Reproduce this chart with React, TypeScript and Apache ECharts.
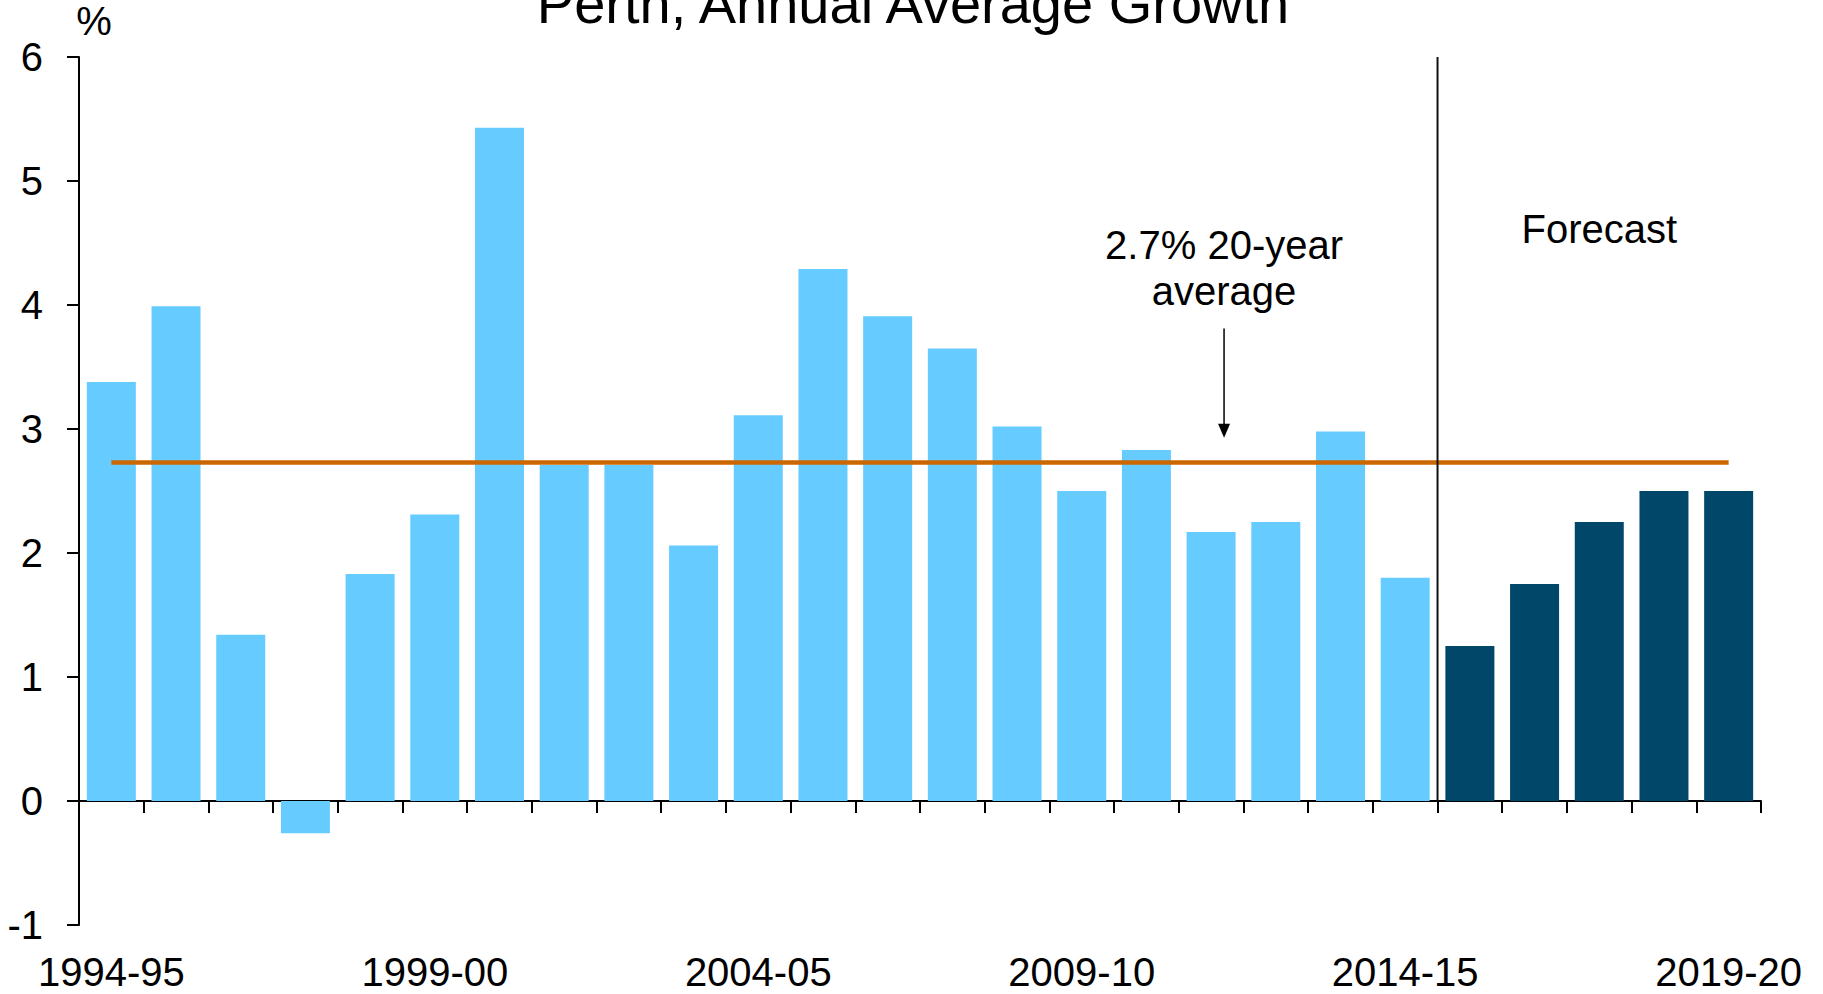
import React, { useEffect, useRef } from "react";
import * as echarts from "echarts";

const categories = [
  "1994-95", "1995-96", "1996-97", "1997-98", "1998-99", "1999-00", "2000-01",
  "2001-02", "2002-03", "2003-04", "2004-05", "2005-06", "2006-07", "2007-08",
  "2008-09", "2009-10", "2010-11", "2011-12", "2012-13", "2013-14", "2014-15",
  "2015-16", "2016-17", "2017-18", "2018-19", "2019-20",
];
const historical = [
  3.38, 3.99, 1.34, -0.26, 1.83, 2.31, 5.43, 2.71, 2.71, 2.06, 3.11, 4.29, 3.91,
  3.65, 3.02, 2.5, 2.83, 2.17, 2.25, 2.98, 1.8,
];
const forecast = [1.25, 1.75, 2.25, 2.5, 2.5];
const averageValue = 2.73;
const yMin = -1;
const yMax = 6;
const yInterval = 1;

const titleText = "Perth, Annual Average Growth";
const unitText = "%";
const averageLabel = "2.7% 20-year\naverage";
const forecastLabel = "Forecast";

const LIGHT = "#66CCFF";
const DARK = "#004769";
const ORANGE = "#CC6600";
const FONT = '"Liberation Sans", Arial, Helvetica, sans-serif';

export default function App() {
  const ref = useRef<HTMLDivElement>(null);

  useEffect(() => {
    if (!ref.current) return;
    const chart = echarts.init(ref.current, null, { renderer: "svg" });
    const values = [...historical, ...forecast];
    const axisLineStyle = { color: "#000", width: 2 };

    chart.setOption({
      animation: false,
      grid: {
        left: 79,
        right: 62,
        top: 57,
        bottom: 69,
        containLabel: false,
        outerBoundsMode: "none",
      },
      xAxis: {
        type: "category",
        data: categories,
        boundaryGap: true,
        axisLine: { show: true, onZero: true, lineStyle: axisLineStyle },
        axisTick: { show: true, interval: 0, length: 12, lineStyle: axisLineStyle },
        axisLabel: {
          interval: 4,
          margin: 27,
          fontSize: 40,
          color: "#000",
          fontFamily: FONT,
        },
        splitLine: { show: false },
      },
      yAxis: {
        type: "value",
        min: yMin,
        max: yMax,
        interval: yInterval,
        axisLine: { show: true, lineStyle: axisLineStyle },
        axisTick: { show: true, length: 12, lineStyle: axisLineStyle },
        axisLabel: { margin: 36, fontSize: 40, color: "#000", fontFamily: FONT },
        splitLine: { show: false },
      },
      series: [
        {
          type: "bar",
          barWidth: 49,
          data: values.map((v, i) => ({
            value: v,
            itemStyle: { color: i < historical.length ? LIGHT : DARK },
          })),
          markLine: {
            silent: true,
            symbol: "none",
            label: { show: false },
            lineStyle: { color: ORANGE, width: 4.5, type: "solid" },
            data: [
              [
                { coord: [categories[0], averageValue] },
                { coord: [categories[categories.length - 1], averageValue] },
              ],
            ],
          },
        },
      ],
    });

    const px = (idx: number, val: number) =>
      chart.convertToPixel({ xAxisIndex: 0, yAxisIndex: 0 }, [idx, val]) as number[];

    const nHist = historical.length;
    const divX = (px(nHist - 1, 0)[0] + px(nHist, 0)[0]) / 2;
    const divTop = px(0, yMax)[1];
    const divBottom = px(0, 0)[1];

    // annotation anchor: between 2011-12 and 2012-13
    const aIdx = 17;
    const aFrac = 0.2;
    const aX = px(aIdx, 0)[0] + aFrac * (px(aIdx + 1, 0)[0] - px(aIdx, 0)[0]);
    const arrowTop = px(0, 3.81)[1];
    const arrowTip = px(0, 2.93)[1];
    const labelY = px(0, 4.3)[1];
    const fcX = px(nHist + 2, 0)[0];
    const fcY = px(0, 4.61)[1];
    const axisX = px(0, 0)[0] - (px(1, 0)[0] - px(0, 0)[0]) / 2;
    const topY = px(0, yMax)[1];

    chart.setOption({
      graphic: [
        {
          type: "text",
          x: 913,
          y: 3,
          style: {
            text: titleText,
            fill: "#000",
            font: `56px ${FONT}`,
            align: "center",
            verticalAlign: "middle",
          },
        },
        {
          type: "text",
          x: axisX + 15,
          y: topY - 36,
          style: {
            text: unitText,
            fill: "#000",
            font: `40px ${FONT}`,
            align: "center",
            verticalAlign: "middle",
          },
        },
        {
          type: "line",
          shape: { x1: divX, y1: divTop, x2: divX, y2: divBottom },
          style: { stroke: "#111", lineWidth: 2 },
          z: 10,
        },
        {
          type: "text",
          x: aX,
          y: labelY,
          style: {
            text: averageLabel,
            fill: "#000",
            font: `40px ${FONT}`,
            lineHeight: 46,
            align: "center",
            verticalAlign: "middle",
          },
        },
        {
          type: "line",
          shape: { x1: aX, y1: arrowTop, x2: aX, y2: arrowTip - 12 },
          style: { stroke: "#000", lineWidth: 1.5 },
        },
        {
          type: "polygon",
          shape: {
            points: [
              [aX - 6, arrowTip - 14],
              [aX + 6, arrowTip - 14],
              [aX, arrowTip],
            ],
          },
          style: { fill: "#000" },
        },
        {
          type: "text",
          x: fcX,
          y: fcY,
          style: {
            text: forecastLabel,
            fill: "#000",
            font: `40px ${FONT}`,
            align: "center",
            verticalAlign: "middle",
          },
        },
      ],
    });

    return () => chart.dispose();
  }, []);

  return (
    <div
      ref={ref}
      style={{ position: "fixed", left: 0, top: 0, width: 1823, height: 994, background: "#fff" }}
    />
  );
}
